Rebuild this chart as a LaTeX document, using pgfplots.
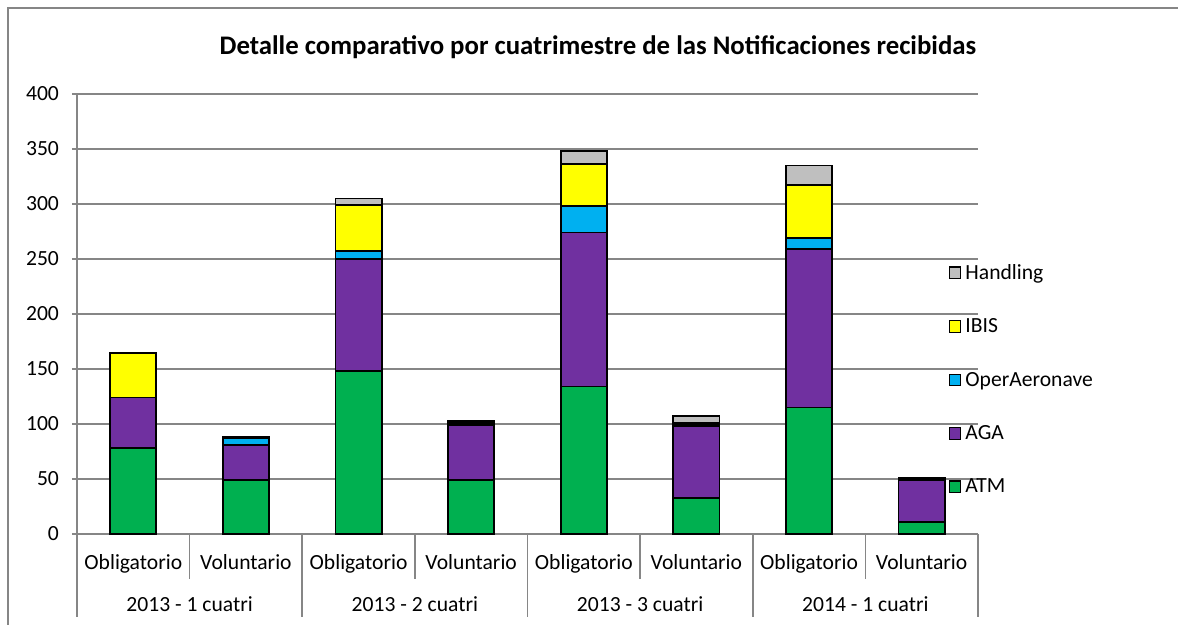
\documentclass[border=0pt]{standalone}
\usepackage{fontspec}
\setmainfont{Carlito}
\usepackage{pgfplots}
\usepackage{pgfplotstable}
\pgfplotsset{compat=1.18}

\definecolor{cATM}{HTML}{00B050}
\definecolor{cAGA}{HTML}{7030A0}
\definecolor{cOper}{HTML}{00B0F0}
\definecolor{cIBIS}{HTML}{FFFF00}
\definecolor{cHand}{HTML}{BFBFBF}
\definecolor{gridgray}{HTML}{868686}

% one row per bar: 2013-1, 2013-2, 2013-3, 2014-1 (Obligatorio, Voluntario)
\pgfplotstableread{
x ATM AGA Oper IBIS Handling
0 78  46  0  40 1
1 49  32  6  0  1
2 148 102 7  42 6
3 49  50  2  1  1
4 134 140 24 38 12
5 33  65  2  1  6
6 115 144 10 48 18
7 11  38  2  0  0
}\datatable

\begin{document}
\begin{tikzpicture}
\useasboundingbox (0,0) rectangle (589pt,312.5pt);
\draw[gridgray, line width=0.8pt] (4pt,-2pt) -- (4pt,308.5pt) -- (592pt,308.5pt);
\node[font=\bfseries\fontsize{13.4}{15}\selectfont] at (299pt,289pt)
   {Detalle comparativo por cuatrimestre de las Notificaciones recibidas};
\begin{axis}[
   scale only axis,
   width=450.5pt, height=220pt,
   at={(38.5pt,45.5pt)}, anchor=south west,
   ybar stacked,
   bar width=0.41,
   xmin=-0.5, xmax=7.5,
   ymin=0, ymax=400,
   ytick={0,50,...,400},
   xtick={0,...,7},
   xticklabels={Obligatorio,Voluntario,Obligatorio,Voluntario,Obligatorio,Voluntario,Obligatorio,Voluntario},
   x tick style={draw=none},
   y tick style={gridgray, line width=0.8pt},
   tick align=outside,
   major tick length=2.5pt,
   axis x line*=bottom, axis y line*=left,
   axis line style={gridgray, line width=0.8pt, -},
   ymajorgrids,
   grid style={gridgray, line width=0.8pt},
   /pgf/number format/assume math mode=true,
   tick label style={font=\fontsize{10.8}{13}\selectfont},
   xticklabel style={yshift=-4pt},
   yticklabel style={xshift=-3pt},
   clip=false,
   reverse legend,
   legend cell align=left,
   legend style={draw=none, fill=none, at={(0.967,0.632)}, anchor=north west,
      font=\fontsize{10.8}{13}\selectfont, row sep=14.2pt, inner xsep=0pt},
   legend image code/.code={\draw[#1,draw=black,line width=0.6pt] (0pt,-2.6pt) rectangle (5.8pt,3.2pt);},
   every axis plot/.append style={draw=black, line width=0.9pt},
]
\addplot[fill=cATM] table[x=x,y=ATM] {\datatable};
\addplot[fill=cAGA] table[x=x,y=AGA] {\datatable};
\addplot[fill=cOper] table[x=x,y=Oper] {\datatable};
\addplot[fill=cIBIS] table[x=x,y=IBIS] {\datatable};
\addplot[fill=cHand] table[x=x,y=Handling] {\datatable};
\legend{ATM,AGA,OperAeronave,IBIS,Handling}
\pgfplotsinvokeforeach{0.5,2.5,4.5,6.5}{
   \draw[gridgray, line width=0.8pt] (axis cs:#1,0) -- ([yshift=-22.5pt]axis cs:#1,0);
}
\pgfplotsinvokeforeach{-0.5,1.5,3.5,5.5,7.5}{
   \draw[gridgray, line width=0.8pt] (axis cs:#1,0) -- ([yshift=-41.5pt]axis cs:#1,0);
}
\node[font=\fontsize{10.8}{13}\selectfont] at ([yshift=-35pt]axis cs:0.5,0) {2013 - 1 cuatri};
\node[font=\fontsize{10.8}{13}\selectfont] at ([yshift=-35pt]axis cs:2.5,0) {2013 - 2 cuatri};
\node[font=\fontsize{10.8}{13}\selectfont] at ([yshift=-35pt]axis cs:4.5,0) {2013 - 3 cuatri};
\node[font=\fontsize{10.8}{13}\selectfont] at ([yshift=-35pt]axis cs:6.5,0) {2014 - 1 cuatri};
\end{axis}
\end{tikzpicture}
\end{document}
